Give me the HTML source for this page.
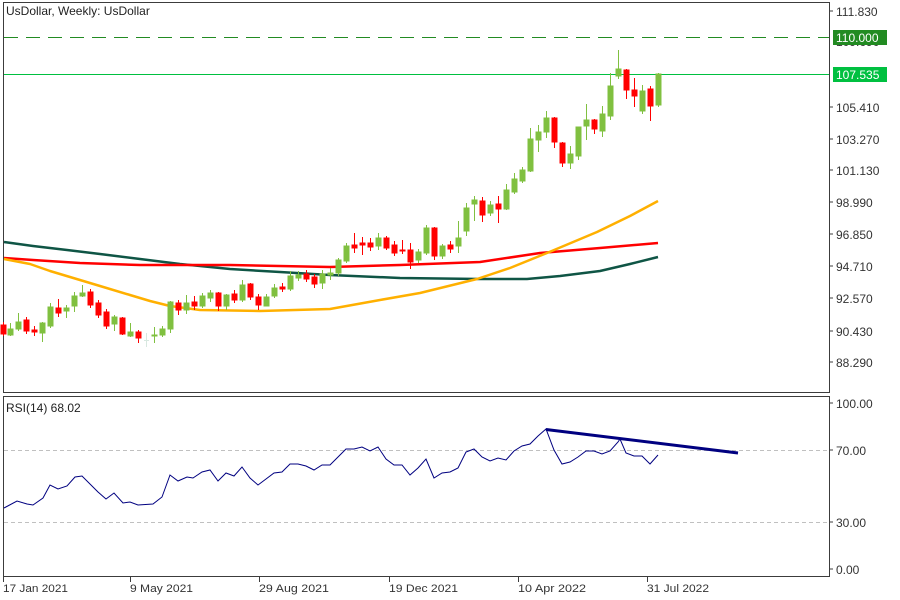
<!DOCTYPE html>
<html><head><meta charset="utf-8"><style>
html,body{margin:0;padding:0;background:#fff;}
svg{display:block;font-family:"Liberation Sans",sans-serif;}
</style></head><body>
<svg width="900" height="600" viewBox="0 0 900 600" xmlns="http://www.w3.org/2000/svg">
<rect width="900" height="600" fill="#fff"/>
<g fill="none" stroke="#3c3c3c" stroke-width="1">
<rect x="3.5" y="2.5" width="826" height="390"/>
<rect x="3.5" y="396.5" width="826" height="180"/>
</g>
<text x="6" y="15" font-size="12" fill="#222">UsDollar, Weekly:  UsDollar</text>
<line x1="4" y1="37.5" x2="829" y2="37.5" stroke="#228b22" stroke-width="1" stroke-dasharray="14,8"/>
<line x1="4" y1="74.5" x2="829" y2="74.5" stroke="#00c040" stroke-width="1"/>
<g fill="none" stroke-width="2.5" stroke-linejoin="round">
<polyline stroke="#0f5545" points="4,242 33,246 67,250 100,254 140,259 180,264 230,269 280,272 330,275 400,278 480,279 527,279 560,276 600,271 630,264 658,257"/>
<polyline stroke="#ff0000" points="4,258 33,260 80,263 140,265 230,265 330,267 400,265 480,262 540,253 600,248 658,243"/>
<polyline stroke="#ffb000" points="4,259 30,264 50,271 80,280 100,286 130,295 150,301 170,306 200,310 260,311 330,309 380,300 420,293 477,279 510,268 547,253 597,232 630,216 658,201"/>
</g>
<g stroke-width="1">
<g stroke="#ff0000" fill="#ff0000">
<line x1="3.5" y1="322" x2="3.5" y2="336"/><rect x="1" y="325" width="5" height="9"/>
<line x1="26.5" y1="317" x2="26.5" y2="334"/><rect x="24" y="320" width="5" height="11"/>
<line x1="34.5" y1="326" x2="34.5" y2="336"/><rect x="32" y="330" width="5" height="2"/>
<line x1="58.5" y1="299" x2="58.5" y2="317"/><rect x="56" y="308" width="5" height="5"/>
<line x1="90.5" y1="289" x2="90.5" y2="308"/><rect x="88" y="292" width="5" height="13"/>
<line x1="98.5" y1="300" x2="98.5" y2="318"/><rect x="96" y="303" width="5" height="12"/>
<line x1="106.5" y1="309" x2="106.5" y2="329"/><rect x="104" y="312" width="5" height="14"/>
<line x1="122.5" y1="317" x2="122.5" y2="335"/><rect x="120" y="318" width="5" height="16"/>
<line x1="138.5" y1="330" x2="138.5" y2="343"/><rect x="136" y="332" width="5" height="6"/>
<line x1="178.5" y1="300" x2="178.5" y2="315"/><rect x="176" y="303" width="5" height="7"/>
<line x1="194.5" y1="296" x2="194.5" y2="310"/><rect x="192" y="302" width="5" height="4"/>
<line x1="218.5" y1="292" x2="218.5" y2="311"/><rect x="216" y="293" width="5" height="13"/>
<line x1="234.5" y1="290" x2="234.5" y2="303"/><rect x="232" y="294" width="5" height="6"/>
<line x1="250.5" y1="283" x2="250.5" y2="300"/><rect x="248" y="284" width="5" height="13"/>
<line x1="258.5" y1="294" x2="258.5" y2="310"/><rect x="256" y="297" width="5" height="8"/>
<line x1="282.5" y1="283" x2="282.5" y2="292"/><rect x="280" y="287" width="5" height="2"/>
<line x1="306.5" y1="270" x2="306.5" y2="282"/><rect x="304" y="274" width="5" height="5"/>
<line x1="314.5" y1="274" x2="314.5" y2="288"/><rect x="312" y="277" width="5" height="7"/>
<line x1="354.5" y1="233" x2="354.5" y2="253"/><rect x="352" y="245" width="5" height="3"/>
<line x1="362.5" y1="237" x2="362.5" y2="255"/><rect x="360" y="243" width="5" height="2"/>
<line x1="370.5" y1="238" x2="370.5" y2="251"/><rect x="368" y="243" width="5" height="4"/>
<line x1="386.5" y1="236" x2="386.5" y2="250"/><rect x="384" y="238" width="5" height="10"/>
<line x1="394.5" y1="241" x2="394.5" y2="256"/><rect x="392" y="245" width="5" height="8"/>
<line x1="402.5" y1="240" x2="402.5" y2="254"/><rect x="400" y="250" width="5" height="1"/>
<line x1="410.5" y1="243" x2="410.5" y2="269"/><rect x="408" y="250" width="5" height="12"/>
<line x1="434.5" y1="227" x2="434.5" y2="260"/><rect x="432" y="228" width="5" height="28"/>
<line x1="450.5" y1="241" x2="450.5" y2="253"/><rect x="448" y="245" width="5" height="4"/>
<line x1="482.5" y1="197" x2="482.5" y2="222"/><rect x="480" y="201" width="5" height="14"/>
<line x1="498.5" y1="196" x2="498.5" y2="223"/><rect x="496" y="204" width="5" height="5"/>
<line x1="554.5" y1="117" x2="554.5" y2="148"/><rect x="552" y="118" width="5" height="24"/>
<line x1="562.5" y1="142" x2="562.5" y2="167"/><rect x="560" y="143" width="5" height="20"/>
<line x1="594.5" y1="119" x2="594.5" y2="134"/><rect x="592" y="120" width="5" height="9"/>
<line x1="626.5" y1="69" x2="626.5" y2="99"/><rect x="624" y="70" width="5" height="20"/>
<line x1="634.5" y1="78" x2="634.5" y2="107"/><rect x="632" y="90" width="5" height="6"/>
<line x1="650.5" y1="86" x2="650.5" y2="121"/><rect x="648" y="89" width="5" height="17"/>
</g>
<g stroke="#80c040" fill="#80c040">
<line x1="10.5" y1="323" x2="10.5" y2="336"/><rect x="8" y="329" width="5" height="6"/>
<line x1="18.5" y1="313" x2="18.5" y2="331"/><rect x="16" y="322" width="5" height="7"/>
<line x1="42.5" y1="322" x2="42.5" y2="342"/><rect x="40" y="323" width="5" height="10"/>
<line x1="50.5" y1="303" x2="50.5" y2="328"/><rect x="48" y="307" width="5" height="19"/>
<line x1="66.5" y1="305" x2="66.5" y2="318"/><rect x="64" y="308" width="5" height="3"/>
<line x1="74.5" y1="292" x2="74.5" y2="312"/><rect x="72" y="296" width="5" height="10"/>
<line x1="82.5" y1="285" x2="82.5" y2="297"/><rect x="80" y="293" width="5" height="3"/>
<line x1="114.5" y1="315" x2="114.5" y2="331"/><rect x="112" y="317" width="5" height="7"/>
<line x1="130.5" y1="323" x2="130.5" y2="337"/><rect x="128" y="332" width="5" height="4"/>
<line x1="154.5" y1="327" x2="154.5" y2="343"/><rect x="152" y="335" width="5" height="1"/>
<line x1="162.5" y1="326" x2="162.5" y2="337"/><rect x="160" y="329" width="5" height="6"/>
<line x1="170.5" y1="301" x2="170.5" y2="333"/><rect x="168" y="302" width="5" height="27"/>
<line x1="186.5" y1="295" x2="186.5" y2="314"/><rect x="184" y="303" width="5" height="7"/>
<line x1="202.5" y1="293" x2="202.5" y2="308"/><rect x="200" y="296" width="5" height="10"/>
<line x1="210.5" y1="290" x2="210.5" y2="302"/><rect x="208" y="293" width="5" height="5"/>
<line x1="226.5" y1="294" x2="226.5" y2="310"/><rect x="224" y="295" width="5" height="11"/>
<line x1="242.5" y1="280" x2="242.5" y2="302"/><rect x="240" y="285" width="5" height="15"/>
<line x1="266.5" y1="294" x2="266.5" y2="306"/><rect x="264" y="297" width="5" height="9"/>
<line x1="274.5" y1="284" x2="274.5" y2="298"/><rect x="272" y="288" width="5" height="8"/>
<line x1="290.5" y1="271" x2="290.5" y2="291"/><rect x="288" y="276" width="5" height="13"/>
<line x1="298.5" y1="271" x2="298.5" y2="281"/><rect x="296" y="275" width="5" height="3"/>
<line x1="322.5" y1="270" x2="322.5" y2="289"/><rect x="320" y="274" width="5" height="9"/>
<line x1="330.5" y1="268" x2="330.5" y2="280"/><rect x="328" y="273" width="5" height="2"/>
<line x1="338.5" y1="258" x2="338.5" y2="276"/><rect x="336" y="260" width="5" height="13"/>
<line x1="346.5" y1="243" x2="346.5" y2="263"/><rect x="344" y="246" width="5" height="15"/>
<line x1="378.5" y1="233" x2="378.5" y2="250"/><rect x="376" y="238" width="5" height="8"/>
<line x1="418.5" y1="249" x2="418.5" y2="263"/><rect x="416" y="252" width="5" height="8"/>
<line x1="426.5" y1="225" x2="426.5" y2="255"/><rect x="424" y="228" width="5" height="25"/>
<line x1="442.5" y1="244" x2="442.5" y2="259"/><rect x="440" y="246" width="5" height="10"/>
<line x1="458.5" y1="221" x2="458.5" y2="253"/><rect x="456" y="238" width="5" height="8"/>
<line x1="466.5" y1="203" x2="466.5" y2="236"/><rect x="464" y="208" width="5" height="23"/>
<line x1="474.5" y1="196" x2="474.5" y2="221"/><rect x="472" y="200" width="5" height="4"/>
<line x1="490.5" y1="201" x2="490.5" y2="216"/><rect x="488" y="205" width="5" height="8"/>
<line x1="506.5" y1="184" x2="506.5" y2="210"/><rect x="504" y="190" width="5" height="19"/>
<line x1="514.5" y1="173" x2="514.5" y2="194"/><rect x="512" y="179" width="5" height="13"/>
<line x1="522.5" y1="167" x2="522.5" y2="183"/><rect x="520" y="170" width="5" height="11"/>
<line x1="530.5" y1="128" x2="530.5" y2="172"/><rect x="528" y="139" width="5" height="32"/>
<line x1="538.5" y1="125" x2="538.5" y2="152"/><rect x="536" y="132" width="5" height="8"/>
<line x1="546.5" y1="111" x2="546.5" y2="138"/><rect x="544" y="118" width="5" height="14"/>
<line x1="570.5" y1="146" x2="570.5" y2="169"/><rect x="568" y="154" width="5" height="9"/>
<line x1="578.5" y1="127" x2="578.5" y2="160"/><rect x="576" y="127" width="5" height="29"/>
<line x1="586.5" y1="104" x2="586.5" y2="140"/><rect x="584" y="120" width="5" height="6"/>
<line x1="602.5" y1="106" x2="602.5" y2="137"/><rect x="600" y="114" width="5" height="17"/>
<line x1="610.5" y1="73" x2="610.5" y2="120"/><rect x="608" y="86" width="5" height="30"/>
<line x1="618.5" y1="50" x2="618.5" y2="79"/><rect x="616" y="69" width="5" height="7"/>
<line x1="642.5" y1="85" x2="642.5" y2="114"/><rect x="640" y="91" width="5" height="20"/>
<line x1="658.5" y1="73" x2="658.5" y2="107"/><rect x="656" y="74" width="5" height="31"/>
</g>
<line x1="146.5" y1="333" x2="146.5" y2="347" stroke="#d8e8e0"/><line x1="144" y1="340.5" x2="149" y2="340.5" stroke="#d8e8e0"/>
</g>
<g font-size="12" fill="#333">
<g stroke="#3c3c3c"><line x1="829" y1="11" x2="833" y2="11"/><line x1="829" y1="107" x2="833" y2="107"/><line x1="829" y1="139" x2="833" y2="139"/><line x1="829" y1="170" x2="833" y2="170"/><line x1="829" y1="202" x2="833" y2="202"/><line x1="829" y1="234" x2="833" y2="234"/><line x1="829" y1="266" x2="833" y2="266"/><line x1="829" y1="298" x2="833" y2="298"/><line x1="829" y1="331" x2="833" y2="331"/><line x1="829" y1="362" x2="833" y2="362"/></g>
<text x="836" y="16">111.830</text>
<text x="836" y="46">109.690</text>
<text x="836" y="112">105.410</text>
<text x="836" y="144">103.270</text>
<text x="836" y="175">101.130</text>
<text x="836" y="207">98.990</text>
<text x="836" y="239">96.850</text>
<text x="836" y="271">94.710</text>
<text x="836" y="303">92.570</text>
<text x="836" y="336">90.430</text>
<text x="836" y="367">88.290</text>
</g>
<rect x="833" y="30" width="54" height="15" fill="#228b22"/>
<text x="836" y="42" font-size="12" fill="#fff">110.000</text>
<rect x="833" y="67" width="54" height="15" fill="#00c040"/>
<text x="836" y="79" font-size="12" fill="#fff">107.535</text>
<text x="6" y="412" font-size="12" fill="#222">RSI(14) 68.02</text>
<g stroke="#c0c0c0" stroke-dasharray="4,3"><line x1="4" y1="450.5" x2="829" y2="450.5"/><line x1="4" y1="522.5" x2="829" y2="522.5"/></g>
<polyline fill="none" stroke="#000080" stroke-width="1" points="4,508 17,501 27,504 33,505 43,498 50,485 58,489 67,486 75,477 82,476 98,492 106,499 114,493 123,503 130,502 138,505 153,504 162,497 170,475 178,481 187,477 193,478 202,472 210,470 218,481 226,473 234,476 242,467 250,478 258,485 266,479 274,473 282,472 290,464 298,464 306,466 314,470 322,465 330,465 338,457 346,449 354,449 362,447 370,451 378,447 386,459 394,465 402,465 410,475 418,468 426,459 434,478 442,473 450,472 458,468 466,452 474,449 482,457 490,461 498,458 506,460 514,451 522,446 530,444 538,436 546,429 554,450 562,464 570,462 578,457 586,451 594,451 602,454 610,451 618,442 620,439 626,453 634,456 642,456 650,464 658,455"/>
<line x1="546" y1="429.5" x2="738" y2="453" stroke="#000080" stroke-width="3"/>
<g font-size="12" fill="#333">
<g stroke="#3c3c3c"><line x1="829" y1="403" x2="833" y2="403"/><line x1="829" y1="450" x2="833" y2="450"/><line x1="829" y1="522" x2="833" y2="522"/><line x1="829" y1="569" x2="833" y2="569"/></g>
<text x="836" y="408">100.00</text>
<text x="836" y="455">70.00</text>
<text x="836" y="527">30.00</text>
<text x="836" y="574">0.00</text>
</g>
<g stroke="#3c3c3c"><line x1="3.5" y1="577" x2="3.5" y2="582"/><line x1="130.5" y1="577" x2="130.5" y2="582"/><line x1="259.5" y1="577" x2="259.5" y2="582"/><line x1="389.5" y1="577" x2="389.5" y2="582"/><line x1="518.5" y1="577" x2="518.5" y2="582"/><line x1="647.5" y1="577" x2="647.5" y2="582"/></g>
<g font-size="11" fill="#333">
<text x="3" y="592" textLength="65" lengthAdjust="spacingAndGlyphs">17 Jan 2021</text>
<text x="130" y="592" textLength="63" lengthAdjust="spacingAndGlyphs">9 May 2021</text>
<text x="259" y="592" textLength="70" lengthAdjust="spacingAndGlyphs">29 Aug 2021</text>
<text x="389" y="592" textLength="69" lengthAdjust="spacingAndGlyphs">19 Dec 2021</text>
<text x="518" y="592" textLength="68" lengthAdjust="spacingAndGlyphs">10 Apr 2022</text>
<text x="647" y="592" textLength="62" lengthAdjust="spacingAndGlyphs">31 Jul 2022</text>
</g>
</svg>
</body></html>
